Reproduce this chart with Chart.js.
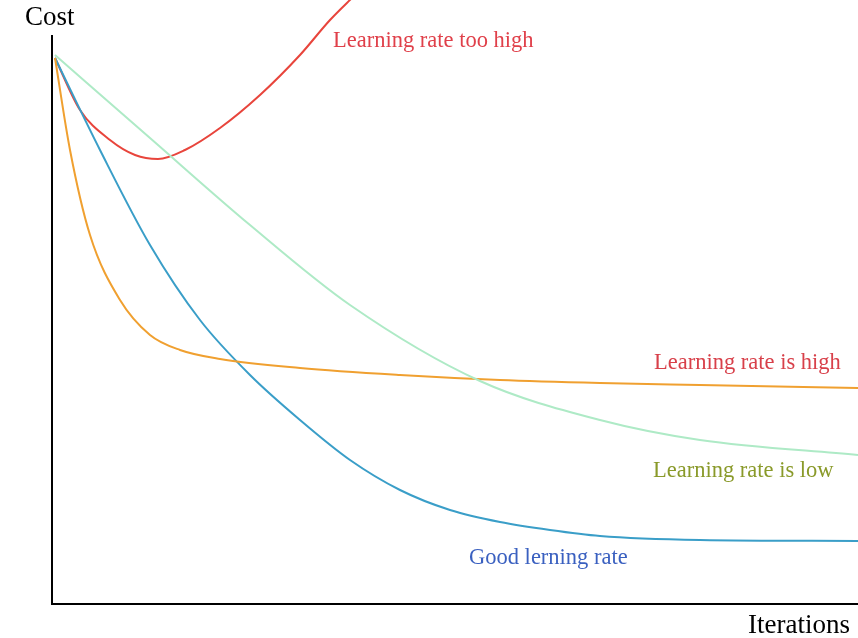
<!DOCTYPE html>
<html>
<head>
<meta charset="utf-8">
<script src="https://cdn.jsdelivr.net/npm/chart.js@4/dist/chart.umd.min.js"></script>
<style>
  html, body { margin: 0; padding: 0; background: #fff; }
  #wrap { width: 858px; height: 638px; }
</style>
</head>
<body>
<div id="wrap"><canvas id="chart"></canvas></div>
<script>
// values: x = iterations, y = cost drop from top (larger = lower cost)
const tooHigh = [[55,58],[80,110],[110,140],[135,155],[158,159],[185,150],[220,128],[260,95],[300,55],[330,20],[355,-5]];
const high = [[55,58],[70,150],[90,235],[120,300],[150,335],[180,350],[220,359],[300,368],[400,375],[500,380],[600,383],[700,385],[858,388]];
const good = [[55,58],[100,150],[150,245],[200,320],[250,375],[300,420],[350,460],[400,490],[450,510],[500,522],[550,530],[600,536],[700,540],[858,541]];
const low = [[55,55],[150,138],[250,225],[350,305],[480,381],[600,420],[700,440],[858,455]];

const labels = [
  { text: 'Learning rate too high', x: 333, y: 41, color: '#e0404a' },
  { text: 'Learning rate is high', x: 654, y: 363, color: '#d8404a' },
  { text: 'Learning rate is low', x: 653, y: 471, color: '#8a9a2a' },
  { text: 'Good lerning rate', x: 469, y: 558, color: '#3a60c0' },
];

const toPts = arr => arr.map(([x, y]) => ({ x, y }));

const decor = {
  id: 'decor',
  afterDraw(chart) {
    const { ctx, chartArea } = chart;
    ctx.save();
    ctx.strokeStyle = '#000';
    ctx.lineWidth = 2;
    ctx.beginPath();
    ctx.moveTo(chartArea.left, 35);
    ctx.lineTo(chartArea.left, chartArea.bottom);
    ctx.lineTo(858, chartArea.bottom);
    ctx.stroke();
    ctx.textBaseline = 'middle';
    ctx.font = '22.5px "Liberation Serif"';
    for (const l of labels) {
      ctx.fillStyle = l.color;
      ctx.fillText(l.text, l.x, l.y);
    }
    ctx.fillStyle = '#000';
    ctx.font = '27px "Liberation Serif"';
    ctx.fillText('Cost', 25, 18);
    ctx.fillText('Iterations', 748, 626);
    ctx.restore();
  }
};

const ds = (data, color) => ({
  data: toPts(data), borderColor: color, borderWidth: 2,
  pointRadius: 0, cubicInterpolationMode: 'monotone', fill: false,
});

new Chart(document.getElementById('chart'), {
  type: 'line',
  data: {
    datasets: [
      ds(low, '#aeeac6'),
      ds(high, '#f0a030'),
      ds(good, '#3a9ec8'),
      ds(tooHigh, '#e8453c'),
    ],
  },
  options: {
    responsive: true,
    maintainAspectRatio: false,
    animation: false,
    layout: { padding: { left: 52, right: 0, top: 0, bottom: 34 } },
    plugins: { legend: { display: false }, tooltip: { enabled: false } },
    scales: {
      x: { type: 'linear', min: 52, max: 858, display: false },
      y: { min: 0, max: 604, reverse: true, display: false },
    },
  },
  plugins: [decor],
});
</script>
</body>
</html>
